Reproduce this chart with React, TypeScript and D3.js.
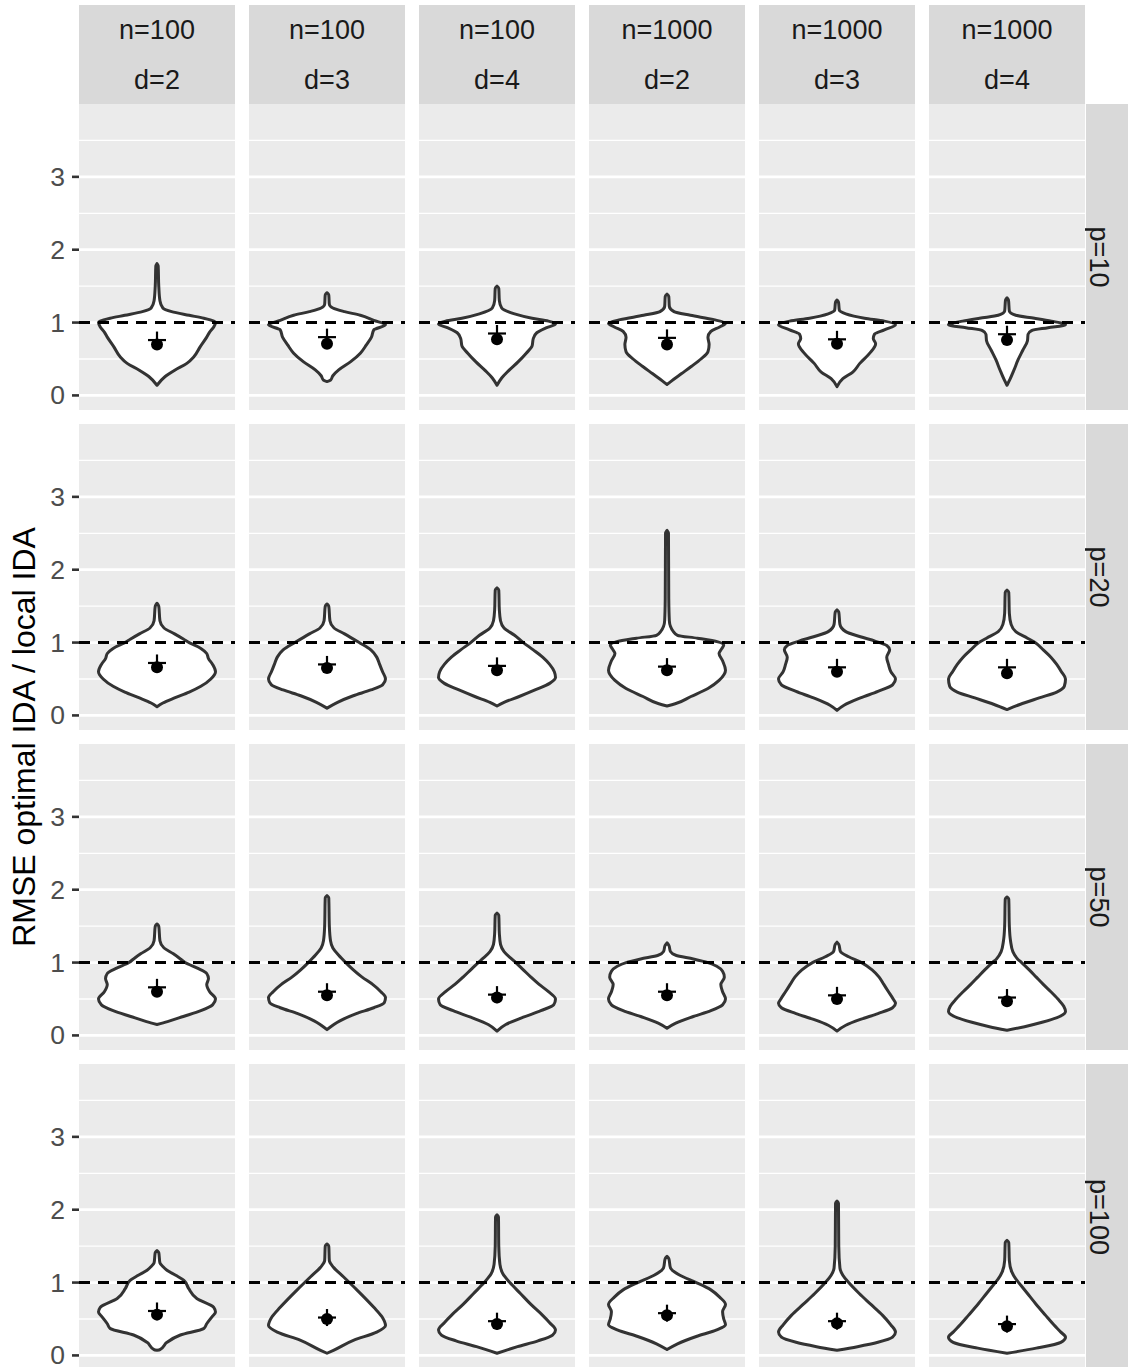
import React from "react";
import * as d3 from "d3";

const rowLabels = ["p=10", "p=20", "p=50", "p=100"];
const colN = ["n=100", "n=100", "n=100", "n=1000", "n=1000", "n=1000"];
const colD = ["d=2", "d=3", "d=4", "d=2", "d=3", "d=4"];
const yTicks = [0, 1, 2, 3];
const yMinor = [0.5, 1.5, 2.5, 3.5];
const refLine = 1;
const yTitle = "RMSE optimal IDA / local IDA";

// violin profiles: [value, relative half-width]
const violinsP10: number[][][] = [
  [[1.81,0],[1.78,0.02],[1.5,0.03],[1.3,0.05],[1.2,0.1],[1.15,0.25],[1.10,0.55],[1.06,0.8],[1.02,0.97],[1.0,1.0],[0.94,0.97],[0.87,0.9],[0.8,0.85],[0.67,0.74],[0.53,0.63],[0.44,0.51],[0.35,0.31],[0.26,0.14],[0.14,0]],
  [[1.41,0],[1.38,0.03],[1.25,0.04],[1.2,0.1],[1.15,0.3],[1.10,0.57],[1.03,0.8],[0.97,1.0],[0.90,0.8],[0.80,0.76],[0.69,0.67],[0.58,0.57],[0.46,0.4],[0.35,0.2],[0.27,0.1],[0.21,0.06],[0.19,0]],
  [[1.5,0],[1.47,0.03],[1.3,0.04],[1.2,0.08],[1.12,0.3],[1.06,0.6],[1.02,0.88],[0.98,1.0],[0.93,0.85],[0.86,0.68],[0.78,0.62],[0.68,0.6],[0.58,0.5],[0.46,0.36],[0.34,0.2],[0.24,0.08],[0.14,0]],
  [[1.39,0],[1.36,0.03],[1.22,0.04],[1.15,0.12],[1.1,0.4],[1.04,0.8],[0.99,1.0],[0.94,0.9],[0.88,0.75],[0.8,0.7],[0.7,0.72],[0.6,0.7],[0.5,0.58],[0.4,0.42],[0.3,0.25],[0.2,0.08],[0.15,0]],
  [[1.31,0],[1.28,0.025],[1.17,0.04],[1.12,0.15],[1.06,0.47],[1.02,0.81],[0.97,1.0],[0.90,0.81],[0.84,0.64],[0.78,0.62],[0.71,0.66],[0.58,0.56],[0.44,0.39],[0.32,0.27],[0.23,0.10],[0.12,0]],
  [[1.34,0],[1.31,0.025],[1.16,0.04],[1.1,0.15],[1.06,0.47],[1.02,0.76],[0.97,1.0],[0.93,0.70],[0.89,0.42],[0.84,0.36],[0.75,0.35],[0.62,0.27],[0.49,0.19],[0.35,0.12],[0.22,0.05],[0.14,0]],
];
const violinsP20: number[][][] = [
  [[1.54,0],[1.5,0.03],[1.3,0.05],[1.2,0.12],[1.12,0.3],[1.05,0.45],[1.0,0.55],[0.92,0.75],[0.85,0.85],[0.78,0.88],[0.7,0.95],[0.6,1.0],[0.5,0.92],[0.4,0.75],[0.32,0.55],[0.24,0.3],[0.17,0.1],[0.12,0]],
  [[1.53,0],[1.5,0.03],[1.3,0.05],[1.2,0.12],[1.12,0.3],[1.0,0.55],[0.9,0.75],[0.8,0.85],[0.7,0.9],[0.6,0.95],[0.5,1.0],[0.42,0.95],[0.35,0.75],[0.27,0.45],[0.18,0.18],[0.1,0]],
  [[1.75,0],[1.72,0.03],[1.45,0.04],[1.3,0.06],[1.2,0.12],[1.1,0.3],[1.0,0.45],[0.9,0.62],[0.8,0.78],[0.7,0.9],[0.6,0.98],[0.52,1.0],[0.44,0.9],[0.35,0.65],[0.26,0.38],[0.18,0.12],[0.13,0]],
  [[2.54,0],[2.5,0.025],[1.6,0.03],[1.3,0.04],[1.22,0.06],[1.16,0.1],[1.10,0.18],[1.06,0.52],[1.01,0.87],[0.965,0.97],[0.91,0.93],[0.85,0.89],[0.75,0.95],[0.62,1.0],[0.48,0.89],[0.37,0.70],[0.26,0.41],[0.16,0.14],[0.13,0]],
  [[1.45,0],[1.42,0.03],[1.25,0.05],[1.15,0.15],[1.08,0.4],[1.02,0.65],[0.96,0.85],[0.9,0.9],[0.8,0.85],[0.7,0.88],[0.6,0.92],[0.5,1.0],[0.42,0.95],[0.33,0.7],[0.24,0.4],[0.14,0.12],[0.07,0]],
  [[1.72,0],[1.69,0.03],[1.4,0.04],[1.25,0.07],[1.15,0.15],[1.06,0.35],[1.0,0.48],[0.9,0.62],[0.8,0.75],[0.7,0.85],[0.6,0.93],[0.5,1.0],[0.4,0.98],[0.32,0.85],[0.24,0.55],[0.15,0.22],[0.08,0]],
];
const violinsP50: number[][][] = [
  [[1.53,0],[1.5,0.03],[1.3,0.05],[1.2,0.12],[1.12,0.28],[1.05,0.4],[1.0,0.48],[0.92,0.7],[0.85,0.85],[0.78,0.88],[0.7,0.85],[0.6,0.9],[0.5,1.0],[0.42,0.95],[0.34,0.75],[0.26,0.45],[0.19,0.18],[0.15,0]],
  [[1.92,0],[1.89,0.03],[1.5,0.04],[1.3,0.06],[1.2,0.1],[1.1,0.2],[1.0,0.32],[0.9,0.45],[0.8,0.6],[0.7,0.78],[0.6,0.92],[0.52,1.0],[0.45,0.98],[0.38,0.8],[0.3,0.5],[0.2,0.22],[0.08,0]],
  [[1.68,0],[1.65,0.03],[1.4,0.04],[1.25,0.06],[1.15,0.12],[1.05,0.25],[1.0,0.32],[0.9,0.45],[0.8,0.58],[0.7,0.72],[0.6,0.88],[0.5,1.0],[0.42,0.97],[0.34,0.75],[0.25,0.45],[0.15,0.15],[0.06,0]],
  [[1.27,0],[1.24,0.03],[1.15,0.06],[1.1,0.15],[1.05,0.45],[1.0,0.7],[0.95,0.85],[0.88,0.95],[0.8,0.98],[0.7,0.92],[0.6,0.95],[0.5,1.0],[0.42,0.95],[0.34,0.75],[0.26,0.45],[0.17,0.15],[0.1,0]],
  [[1.28,0],[1.25,0.03],[1.15,0.06],[1.08,0.2],[1.0,0.42],[0.9,0.6],[0.8,0.72],[0.7,0.8],[0.6,0.88],[0.5,0.96],[0.44,1.0],[0.38,0.95],[0.3,0.7],[0.22,0.4],[0.14,0.15],[0.06,0]],
  [[1.9,0],[1.87,0.03],[1.5,0.04],[1.3,0.06],[1.15,0.1],[1.05,0.18],[1.0,0.25],[0.9,0.38],[0.8,0.5],[0.7,0.62],[0.6,0.75],[0.5,0.87],[0.4,0.97],[0.33,1.0],[0.26,0.9],[0.18,0.6],[0.12,0.3],[0.07,0]],
];
const violinsP100: number[][][] = [
  [[1.44,0],[1.41,0.03],[1.27,0.05],[1.22,0.1],[1.17,0.17],[1.1,0.32],[1.03,0.46],[0.92,0.54],[0.78,0.68],[0.66,0.97],[0.595,1.0],[0.53,0.94],[0.435,0.85],[0.37,0.8],[0.28,0.4],[0.18,0.17],[0.08,0.05],[0.07,0]],
  [[1.53,0],[1.5,0.03],[1.3,0.04],[1.21,0.11],[1.08,0.28],[0.9,0.51],[0.66,0.8],[0.53,0.94],[0.41,1.0],[0.32,0.85],[0.21,0.46],[0.07,0.11],[0.03,0]],
  [[1.93,0],[1.9,0.025],[1.5,0.03],[1.25,0.05],[1.12,0.1],[1.0,0.22],[0.85,0.4],[0.7,0.58],[0.55,0.78],[0.45,0.9],[0.35,1.0],[0.28,0.95],[0.2,0.7],[0.12,0.35],[0.03,0]],
  [[1.36,0],[1.33,0.03],[1.2,0.06],[1.1,0.22],[1.0,0.5],[0.9,0.75],[0.8,0.9],[0.7,1.0],[0.6,0.95],[0.5,0.97],[0.42,1.0],[0.35,0.85],[0.26,0.5],[0.16,0.18],[0.08,0]],
  [[2.12,0],[2.09,0.025],[1.5,0.03],[1.2,0.05],[1.1,0.1],[1.0,0.2],[0.85,0.38],[0.7,0.58],[0.55,0.78],[0.42,0.92],[0.32,1.0],[0.25,0.95],[0.18,0.7],[0.12,0.35],[0.07,0]],
  [[1.58,0],[1.55,0.03],[1.3,0.04],[1.15,0.08],[1.05,0.15],[1.0,0.2],[0.85,0.35],[0.7,0.5],[0.55,0.66],[0.42,0.8],[0.32,0.92],[0.25,1.0],[0.18,0.92],[0.1,0.5],[0.03,0]],
];
const violins = [violinsP10, violinsP20, violinsP50, violinsP100];

// plus marker values and dot values per row
const plusP10 = [0.76, 0.80, 0.85, 0.79, 0.77, 0.84];
const plusP20 = [0.72, 0.70, 0.68, 0.67, 0.66, 0.66];
const plusP50 = [0.66, 0.60, 0.56, 0.60, 0.55, 0.52];
const plusP100 = [0.61, 0.52, 0.47, 0.58, 0.47, 0.43];
const dotP10 = [0.70, 0.71, 0.77, 0.70, 0.71, 0.76];
const dotP20 = [0.66, 0.65, 0.62, 0.62, 0.60, 0.58];
const dotP50 = [0.60, 0.55, 0.52, 0.55, 0.50, 0.47];
const dotP100 = [0.56, 0.50, 0.43, 0.55, 0.44, 0.40];
const plusVals = [plusP10, plusP20, plusP50, plusP100];
const dotVals = [dotP10, dotP20, dotP50, dotP100];

const W = 1128, H = 1367;
const panelLeft0 = 79, panelW = 156, colStep = 170;
const panelTop0 = 104, panelH = 306, rowStep = 320;
const stripTop = 5;
const rightStripX = 1086;
const FONT = "'Liberation Sans', Arial, Helvetica, sans-serif";

export default function App() {
  const xBand = d3.scaleLinear().domain([0.4, 1.6]).range([0, panelW]);
  const halfMax = (xBand(1.45) - xBand(1.0));
  return (
    <svg width={W} height={H} style={{ position: "absolute", left: 0, top: 0, background: "#fff" }} fontFamily={FONT}>
      <rect x={0} y={0} width={W} height={H} fill="#fff" />
      {colN.map((n, j) => {
        const x0 = panelLeft0 + colStep * j;
        return (
          <g key={"s" + j}>
            <rect x={x0} y={stripTop} width={panelW} height={panelTop0 - stripTop} fill="#D9D9D9" />
            <text x={x0 + panelW / 2} y={39} textAnchor="middle" fontSize={27} fill="#1A1A1A">{n}</text>
            <text x={x0 + panelW / 2} y={89} textAnchor="middle" fontSize={27} fill="#1A1A1A">{colD[j]}</text>
          </g>
        );
      })}
      {rowLabels.map((lab, i) => {
        const top = panelTop0 + rowStep * i;
        const y = d3.scaleLinear().domain([-0.2, 4.0]).range([top + panelH, top]);
        return (
          <g key={"r" + i}>
            <rect x={rightStripX} y={top} width={W - rightStripX + 10} height={panelH} fill="#D9D9D9" />
            <text transform={`translate(${1090},${top + panelH / 2}) rotate(90)`} textAnchor="middle" fontSize={27} fill="#1A1A1A">{lab}</text>
            {yTicks.map((t) => (
              <g key={"t" + t}>
                <line x1={72} x2={panelLeft0} y1={y(t)} y2={y(t)} stroke="#333333" strokeWidth={2.6} />
                <text x={65} y={y(t)} dy="0.34em" textAnchor="end" fontSize={26.5} fill="#4D4D4D">{t}</text>
              </g>
            ))}
            {colN.map((_, j) => {
              const x0 = panelLeft0 + colStep * j;
              const cx = x0 + xBand(1);
              const prof = violins[i][j];
              const area = d3.area<number[]>()
                .y((d) => y(d[0]))
                .x0((d) => cx - d[1] * halfMax)
                .x1((d) => cx + d[1] * halfMax)
                .curve(d3.curveMonotoneY);
              const sorted = [...prof].sort((a, b) => a[0] - b[0]);
              const pv = plusVals[i][j];
              const dv = dotVals[i][j];
              return (
                <g key={"p" + j}>
                  <rect x={x0} y={top} width={panelW} height={panelH} fill="#EBEBEB" />
                  {yMinor.map((m) => (
                    <line key={"m" + m} x1={x0} x2={x0 + panelW} y1={y(m)} y2={y(m)} stroke="#fff" strokeWidth={1.3} />
                  ))}
                  {yTicks.map((t) => (
                    <line key={"g" + t} x1={x0} x2={x0 + panelW} y1={y(t)} y2={y(t)} stroke="#fff" strokeWidth={2.7} />
                  ))}
                  <path d={area(sorted) || ""} fill="#fff" stroke="#333333" strokeWidth={3} strokeLinejoin="round" />
                  <line x1={x0} x2={x0 + panelW} y1={y(refLine)} y2={y(refLine)} stroke="#000" strokeWidth={3} strokeDasharray="11 8" />
                  <circle cx={cx} cy={y(dv)} r={6} fill="#000" />
                  <line x1={cx - 9} x2={cx + 9} y1={y(pv)} y2={y(pv)} stroke="#000" strokeWidth={2.2} />
                  <line x1={cx} x2={cx} y1={y(pv) - 8.5} y2={y(pv) + 8.5} stroke="#000" strokeWidth={2.2} />
                </g>
              );
            })}
          </g>
        );
      })}
      <text transform={`translate(35,${panelTop0 + (rowStep * 3 + panelH) / 2}) rotate(-90)`} textAnchor="middle" fontSize={32} fill="#000">{yTitle}</text>
    </svg>
  );
}
